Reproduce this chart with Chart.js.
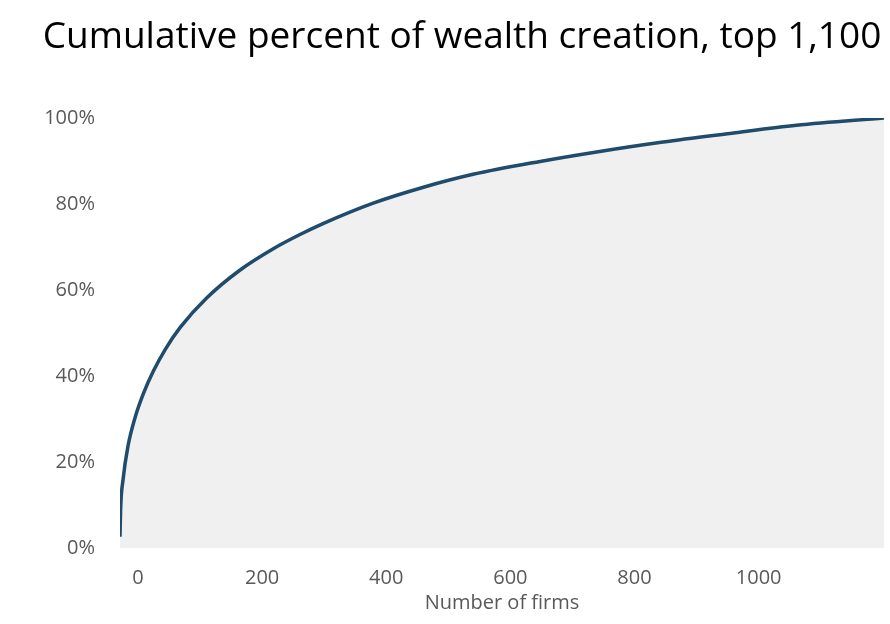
<!DOCTYPE html>
<html>
<head>
<meta charset="utf-8">
<script src="https://cdn.jsdelivr.net/npm/chart.js@4"></script>
<style>
    html, body { margin: 0; padding: 0; background: #fff; }
    #wrap { width: 890px; height: 624px; position: relative; }
</style>
</head>
<body>
<div id="wrap"><canvas id="chart"></canvas></div>
<script>
// firms (axis units) and cumulative share
const firms = [-29, -28, -24, -16, -5, 9, 25, 44, 68, 111, 164, 218, 261, 299, 379, 460, 540, 648, 739, 846, 954, 1061, 1202];
const cumulativePct = [2.6, 9, 16, 23.8, 30.2, 36, 41.2, 46.2, 51.3, 58.2, 64.6, 69.6, 72.9, 75.5, 80.2, 83.9, 86.9, 89.9, 92.1, 94.4, 96.4, 98.3, 100];
const xTicks = [0, 200, 400, 600, 800, 1000];
const yTicks = [0, 20, 40, 60, 80, 100];

(function () {
    const font = '"Open Sans", "DejaVu Sans", sans-serif';
    const grey = '#595959';

    const points = firms.map((f, i) => ({ x: f, y: cumulativePct[i] }));

    new Chart(document.getElementById('chart'), {
        type: 'line',
        data: {
            datasets: [{
                data: points,
                borderColor: '#1f4b6c',
                borderWidth: 3.5,
                backgroundColor: '#f0f0f0',
                fill: 'origin',
                pointRadius: 0,
                cubicInterpolationMode: 'monotone',
            }],
        },
        options: {
            responsive: true,
            maintainAspectRatio: false,
            animation: false,
            layout: { padding: { left: 40, right: 6, top: 0, bottom: 0 } },
            plugins: {
                legend: { display: false },
                tooltip: { enabled: false },
                title: {
                    display: true,
                    text: 'Cumulative percent of wealth creation, top 1,100',
                    color: '#000',
                    font: { family: font, size: 37, weight: 'normal', lineHeight: 1.2 },
                    padding: { top: 15, bottom: 58.6 },
                },
            },
            scales: {
                x: {
                    type: 'linear',
                    min: -29,
                    max: 1202,
                    grid: { display: false, drawTicks: false },
                    border: { display: false },
                    afterBuildTicks: axis => { axis.ticks = xTicks.map(v => ({ value: v })); },
                    afterFit: s => { s.height = 76; },
                    ticks: { color: grey, padding: 18, font: { family: font, size: 20 }, callback: v => String(v) },
                    title: {
                        display: true,
                        text: 'Number of firms',
                        color: grey,
                        font: { family: font, size: 20 },
                        padding: { top: 0, bottom: 9 },
                    },
                },
                y: {
                    min: 0,
                    max: 100,
                    grid: { display: false, drawTicks: false },
                    border: { display: false },
                    afterBuildTicks: axis => { axis.ticks = yTicks.map(v => ({ value: v })); },
                    afterFit: s => { s.width = 80; },
                    ticks: { color: grey, padding: 25, font: { family: font, size: 20 }, callback: v => v + '%' },
                },
            },
        },
    });
})();
</script>
</body>
</html>
